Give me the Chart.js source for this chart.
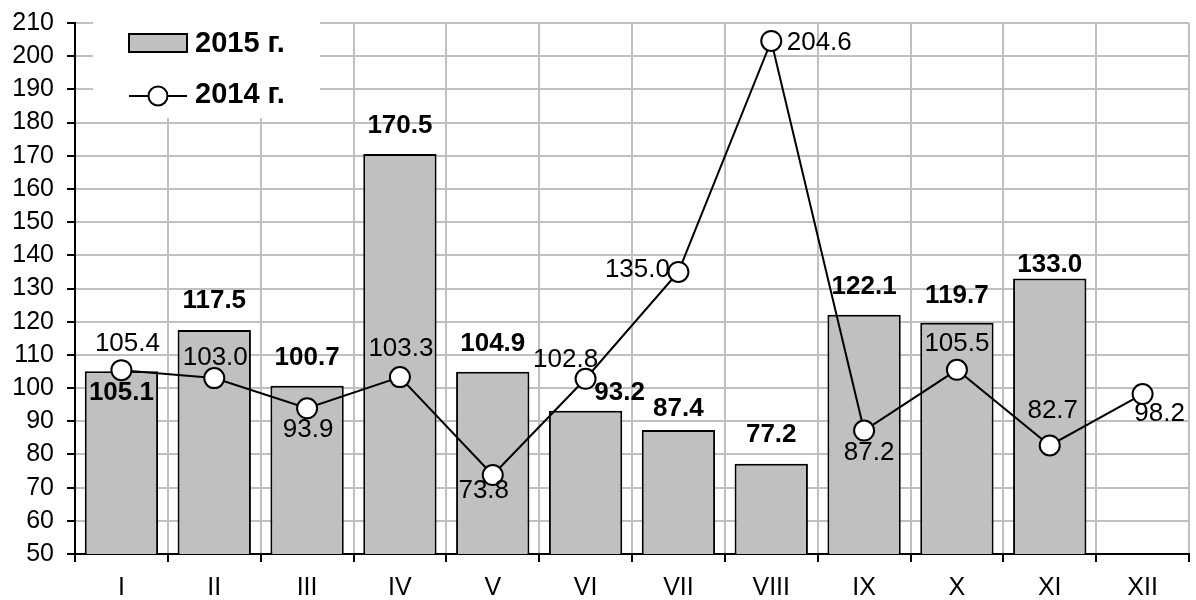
<!DOCTYPE html>
<html>
<head>
<meta charset="utf-8">
<script src="https://cdn.jsdelivr.net/npm/chart.js@4"></script>
<style>
  html, body { margin: 0; padding: 0; background: #fff; overflow: hidden; }
  #wrap { width: 1201px; height: 600px; }
</style>
</head>
<body>
<div id="wrap"><canvas id="chart" width="1201" height="600"></canvas></div>
<script>
// ── Data ──────────────────────────────────────────────────────
const months = ['I', 'II', 'III', 'IV', 'V', 'VI', 'VII', 'VIII', 'IX', 'X', 'XI', 'XII'];
const values2015 = [105.1, 117.5, 100.7, 170.5, 104.9, 93.2, 87.4, 77.2, 122.1, 119.7, 133.0, null];
const values2014 = [105.4, 103.0, 93.9, 103.3, 73.8, 102.8, 135.0, 204.6, 87.2, 105.5, 82.7, 98.2];
const yMin = 50, yMax = 210, yStep = 10;

// label placement (pixels from bar top / point centre)
const barLabelDx  = [0, 0, 0, 0, 0, 34, 0, 0, 0, 0, 0, 0];
const barLabelDy  = [22, -29, -28, -28, -28, -18, -21, -29, -28, -27, -14, 0];
const lineLabelDx = [6, 1, 1, 1, -9, -20, -41, 48, 5, 0, 3, 17];
const lineLabelDy = [-26, -20, 22, -28, 16, -19, -2, 2, 22, -26, -35, 20];

const FONT = "'Liberation Sans', Arial, sans-serif";

// ── Legend box + data labels ──────────────────────────────────
const decor = {
  id: 'decor',
  beforeDatasetsDraw(chart) {
    const ctx = chart.ctx;
    ctx.save();
    ctx.fillStyle = '#fff';
    ctx.fillRect(93, 0, 227, 118);
    ctx.restore();
  },
  afterDatasetsDraw(chart) {
    const ctx = chart.ctx;
    ctx.save();
    ctx.textAlign = 'center';
    ctx.textBaseline = 'middle';
    ctx.fillStyle = '#000';

    // bar labels
    ctx.font = 'bold 26px ' + FONT;
    chart.getDatasetMeta(0).data.forEach((el, i) => {
      if (values2015[i] == null) return;
      ctx.fillText(values2015[i].toFixed(1), el.x + barLabelDx[i], el.y + barLabelDy[i]);
    });

    // line labels
    ctx.font = '26px ' + FONT;
    chart.getDatasetMeta(1).data.forEach((el, i) => {
      ctx.fillText(values2014[i].toFixed(1), el.x + lineLabelDx[i], el.y + lineLabelDy[i]);
    });

    // legend
    ctx.lineWidth = 2;
    ctx.strokeStyle = '#000';
    ctx.fillStyle = '#c0c0c0';
    ctx.fillRect(129, 34, 58, 18);
    ctx.strokeRect(129, 34, 58, 18);

    ctx.beginPath();
    ctx.moveTo(129, 96);
    ctx.lineTo(187, 96);
    ctx.stroke();
    ctx.beginPath();
    ctx.arc(158, 96, 9.5, 0, Math.PI * 2);
    ctx.fillStyle = '#fff';
    ctx.fill();
    ctx.stroke();

    ctx.fillStyle = '#000';
    ctx.textAlign = 'left';
    ctx.font = 'bold 29px ' + FONT;
    ctx.fillText('2015 г.', 195, 44);
    ctx.fillText('2014 г.', 195, 95);
    ctx.restore();
  }
};

new Chart(document.getElementById('chart'), {
  data: {
    labels: months,
    datasets: [
      {
        type: 'bar',
        label: '2015 г.',
        data: values2015,
        backgroundColor: '#c0c0c0',
        borderColor: '#000',
        borderWidth: 2,
        categoryPercentage: 1,
        barPercentage: 0.79,
        order: 2,
      },
      {
        type: 'line',
        label: '2014 г.',
        data: values2014,
        borderColor: '#000',
        borderWidth: 2,
        tension: 0,
        pointRadius: 10,
        pointBorderWidth: 2,
        pointBackgroundColor: '#fff',
        pointBorderColor: '#000',
        order: 1,
      }
    ]
  },
  options: {
    responsive: false,
    animation: false,
    devicePixelRatio: 1,
    layout: { padding: { top: 23, right: 0, left: 0, bottom: 0 } },
    plugins: {
      legend: { display: false },
      tooltip: { enabled: false }
    },
    scales: {
      x: {
        offset: true,
        grid: { offset: true, color: '#c0c0c0', lineWidth: 2, tickColor: '#000', tickLength: 8, tickWidth: 2 },
        border: { color: '#000', width: 2 },
        ticks: { color: '#000', padding: 11, font: { family: FONT, size: 25 }, maxRotation: 0, autoSkip: false },
        afterFit(scale) { scale.height = 46; }
      },
      y: {
        min: yMin,
        max: yMax,
        grid: { color: '#c0c0c0', lineWidth: 2, tickColor: '#000', tickLength: 8, tickWidth: 2 },
        border: { color: '#000', width: 2 },
        ticks: { stepSize: yStep, color: '#000', padding: 13, font: { family: FONT, size: 25 }, autoSkip: false },
        afterFit(scale) {
          scale.width = 75;
          scale.paddingTop = 0;
          scale.paddingBottom = 0;
        }
      }
    }
  },
  plugins: [decor]
});
</script>
</body>
</html>
